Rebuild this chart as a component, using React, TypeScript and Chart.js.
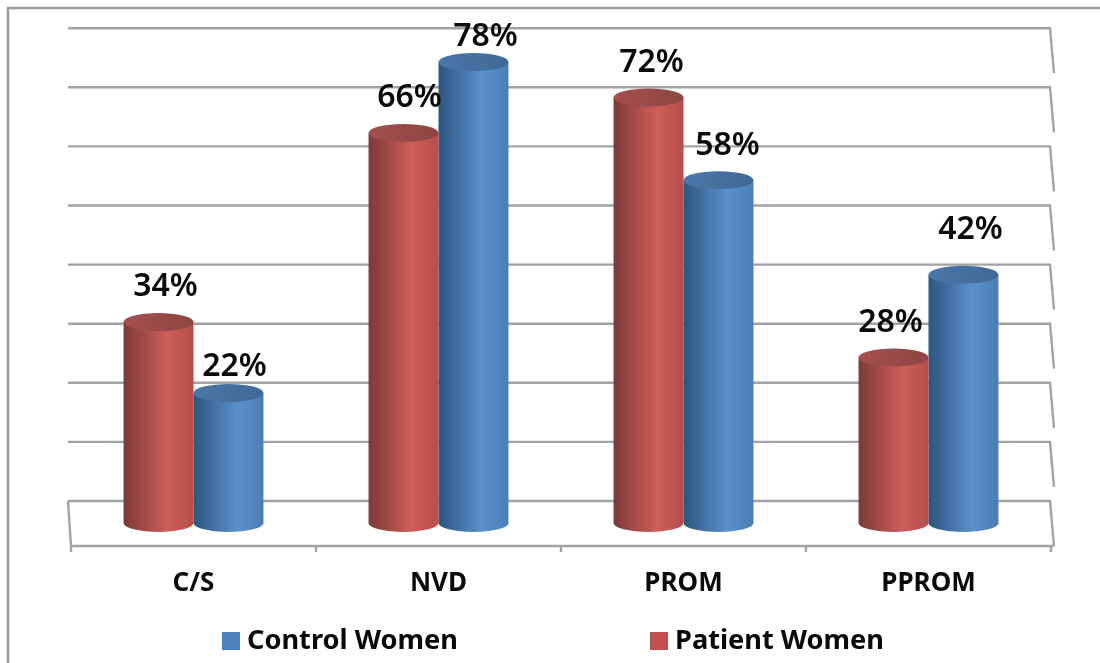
import React, { useEffect, useRef } from "react";
import { Chart, registerables } from "chart.js";

Chart.register(...registerables);

const categories = ["C/S", "NVD", "PROM", "PPROM"];
const patientWomen = [34, 66, 72, 28];
const controlWomen = [22, 78, 58, 42];
const gridValues = [0, 10, 20, 30, 40, 50, 60, 70, 80];

const FONT = '"Noto Sans", sans-serif';
const GRID = "#a3a3a3";
const DEPTH = 22;
const RY = 9;

const palettes = [
  { dark: "#7b3b39", mid: "#cf5d5a", end: "#b44f4c", capL: "#a44f4d", capR: "#8f4644", swatch: "#c0504d" },
  { dark: "#2c5680", mid: "#5b90cc", end: "#4c7eb5", capL: "#4a78a8", capR: "#3f6896", swatch: "#4f81bd" },
];

// nudges of the value labels from the bar's top centre: [dx, dy]
const labelNudge = [
  [[7, -35], [6, -35], [3, -35], [-3, -35]],
  [[6, -26], [12, -25], [9, -34], [7, -45]],
];

function barBox(chart: any, dsIndex: number, index: number) {
  const x = chart.scales.x;
  const cat = x.width / categories.length;
  const bar = (cat * 0.571) / 2;
  const cx = x.getPixelForValue(index) + (dsIndex === 0 ? -bar / 2 : bar / 2);
  return { cx, w: bar / 2 };
}

function cylinderGradient(ctx: any, d: number, cx: number, w: number) {
  const g = ctx.createLinearGradient(cx - w, 0, cx + w, 0);
  const p = palettes[d];
  g.addColorStop(0, p.dark);
  g.addColorStop(0.62, p.mid);
  g.addColorStop(1, p.end);
  return g;
}

const cylinder3d = {
  id: "cylinder3d",
  beforeDraw(chart: any) {
    const { ctx } = chart;
    ctx.save();
    ctx.fillStyle = "#ffffff";
    ctx.fillRect(0, 0, chart.width, chart.height);
    ctx.strokeStyle = "#9c9c9c";
    ctx.lineWidth = 2.5;
    ctx.beginPath();
    ctx.moveTo(8, chart.height);
    ctx.lineTo(8, 8);
    ctx.lineTo(chart.width, 8);
    ctx.stroke();
    ctx.restore();
  },
  beforeDatasetsDraw(chart: any) {
    const { ctx, scales } = chart;
    const { x, y } = scales;
    const wallL = x.left - 3;
    const wallR = x.right - 1;
    const sideR = 4;
    ctx.save();
    ctx.strokeStyle = GRID;
    ctx.lineWidth = 2.4;
    gridValues.forEach((v) => {
      const py = y.getPixelForValue(v) - DEPTH;
      ctx.beginPath();
      ctx.moveTo(wallL, py);
      ctx.lineTo(wallR, py);
      ctx.lineTo(wallR + sideR, py + 45);
      ctx.stroke();
    });
    const floorBack = y.getPixelForValue(0) - DEPTH;
    const floorFront = floorBack + 45;
    ctx.beginPath();
    ctx.moveTo(wallL, floorBack);
    ctx.lineTo(x.left, floorFront);
    ctx.lineTo(wallR + sideR, floorFront);
    ctx.stroke();
    for (let i = 0; i <= categories.length; i++) {
      const tx = x.left + (i * x.width) / categories.length;
      ctx.beginPath();
      ctx.moveTo(tx, floorFront);
      ctx.lineTo(tx, floorFront + 6);
      ctx.stroke();
    }
    // rounded bottoms of the cylinders, under the library's bars
    chart.data.datasets.forEach((ds: any, d: number) => {
      ds.data.forEach((_: number, i: number) => {
        const { cx, w } = barBox(chart, d, i);
        ctx.fillStyle = cylinderGradient(ctx, d, cx, w);
        ctx.beginPath();
        ctx.ellipse(cx, y.getPixelForValue(0), w, RY, 0, 0, Math.PI * 2);
        ctx.fill();
      });
    });
    ctx.restore();
  },
  afterDatasetsDraw(chart: any) {
    const { ctx, scales } = chart;
    const { y } = scales;
    ctx.save();
    chart.data.datasets.forEach((ds: any, d: number) => {
      ds.data.forEach((v: number, i: number) => {
        const { cx, w } = barBox(chart, d, i);
        const py = y.getPixelForValue(v);
        const p = palettes[d];
        const g = ctx.createLinearGradient(cx - w, 0, cx + w, 0);
        g.addColorStop(0, p.capL);
        g.addColorStop(1, p.capR);
        ctx.fillStyle = g;
        ctx.beginPath();
        ctx.ellipse(cx, py, w, RY, 0, 0, Math.PI * 2);
        ctx.fill();
      });
    });
    ctx.fillStyle = "#0a0a0a";
    ctx.font = `600 32px ${FONT}`;
    ctx.textAlign = "center";
    ctx.textBaseline = "middle";
    chart.data.datasets.forEach((ds: any, d: number) => {
      ds.data.forEach((v: number, i: number) => {
        const { cx } = barBox(chart, d, i);
        const [dx, dy] = labelNudge[d][i];
        ctx.fillText(`${v}%`, cx + dx, y.getPixelForValue(v) + dy);
      });
    });
    // legend, control first
    const entries = [
      { d: 1, box: 222 },
      { d: 0, box: 650 },
    ];
    ctx.textAlign = "left";
    ctx.font = `bold 27.2px ${FONT}`;
    entries.forEach(({ d, box }) => {
      ctx.fillStyle = palettes[d].swatch;
      ctx.fillRect(box, 632, 18, 18);
      ctx.fillStyle = "#0a0a0a";
      ctx.fillText(chart.data.datasets[d].label, box + 25, 641);
    });
    ctx.restore();
  },
};

function bodyGradient(ctx: any, dsIndex: number) {
  const chart = ctx.chart;
  if (ctx.type !== "data" || !chart.scales.x) return palettes[dsIndex].swatch;
  const { cx, w } = barBox(chart, dsIndex, ctx.dataIndex);
  if (!Number.isFinite(cx) || !Number.isFinite(w)) return palettes[dsIndex].swatch;
  return cylinderGradient(chart.ctx, dsIndex, cx, w);
}

export default function App() {
  const ref = useRef<HTMLCanvasElement | null>(null);
  useEffect(() => {
    if (!ref.current) return;
    const chart = new Chart(ref.current, {
      type: "bar",
      data: {
        labels: categories,
        datasets: [
          { label: "Patient Women", data: patientWomen, backgroundColor: (c: any) => bodyGradient(c, 0), barPercentage: 1, categoryPercentage: 0.571 },
          { label: "Control Women", data: controlWomen, backgroundColor: (c: any) => bodyGradient(c, 1), barPercentage: 1, categoryPercentage: 0.571 },
        ],
      },
      options: {
        responsive: false,
        animation: false,
        layout: { padding: { left: 71, right: 49, top: 28, bottom: 0 } },
        plugins: { legend: { display: false }, tooltip: { enabled: false }, title: { display: false } },
        scales: {
          x: {
            afterFit(scale: any) {
              scale.height = 140;
            },
            grid: { display: false, drawTicks: false },
            border: { display: false },
            ticks: { color: "#0a0a0a", font: { family: FONT, weight: "bold", size: 26 }, padding: 45, maxRotation: 0 },
          },
          y: {
            display: false,
            min: 0,
            max: 83.76,
          },
        },
      },
      plugins: [cylinder3d],
    } as any);
    return () => chart.destroy();
  }, []);
  return (
    <canvas
      ref={ref}
      width={1100}
      height={663}
      style={{ position: "fixed", left: 0, top: 0, width: 1100, height: 663, display: "block" }}
    />
  );
}
